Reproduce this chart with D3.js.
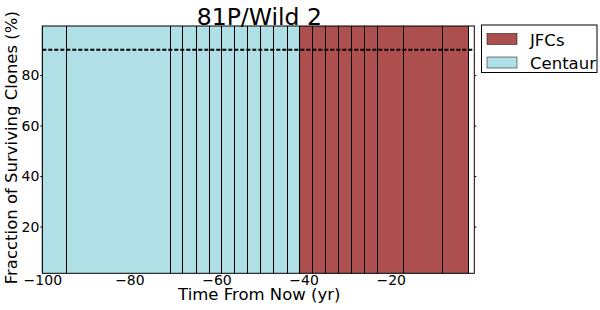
<!DOCTYPE html>
<html>
<head>
<meta charset="utf-8">
<script src="https://cdn.jsdelivr.net/npm/d3@7"></script>
<style>
  body { margin: 0; background: white; }
  text { font-family: "DejaVu Sans", sans-serif; fill: black; }
</style>
</head>
<body>
<div id="chart"></div>
<script>
// Datos (bordes de cada franja, en años)
var centaurEdges = [-100, -94.4, -70.6, -67.7, -64.7, -61.7, -58.8, -55.8, -52.8, -49.8, -46.8, -43.8, -40.9];
var jfcEdges = [-40.9, -37.9, -34.9, -32.0, -29.0, -26.0, -23.0, -17.0, -8.0, -2.1];
var xTicks = [-100, -80, -60, -40, -20];
var yTicks = [20, 40, 60, 80];
var thresholdLine = 90;
var barValue = 100;
var titleText = "81P/Wild 2";
var legendNames = ["JFCs", "Centaur"];

var chart_width = 600;
var chart_height = 310;
var plot = { left: 42.3, right: 474.3, top: 26, bottom: 273.3 };

var colorJfc = "#ad4f4f";
var colorCentaur = "#b0dfe5";

var svg = d3.select("#chart")
  .append("svg")
  .attr("width", chart_width)
  .attr("height", chart_height);

svg.append("rect")
  .attr("width", chart_width)
  .attr("height", chart_height)
  .style("fill", "white");

// Escalas
var escalaX = d3.scaleLinear()
  .domain([-100, -0.8])
  .range([plot.left, plot.right]);

var escalaY = d3.scaleLinear()
  .domain([1.5, 99.4])
  .range([plot.bottom, plot.top]);

svg.append("clipPath")
  .attr("id", "clip")
  .append("rect")
  .attr("x", plot.left)
  .attr("y", plot.top)
  .attr("width", plot.right - plot.left)
  .attr("height", plot.bottom - plot.top);

var g = svg.append("g").attr("clip-path", "url(#clip)");

// convierte los bordes en franjas
function franjas(edges, name) {
  var out = [];
  for (var i = 0; i < edges.length - 1; i++) {
    out.push({ x0: edges[i], x1: edges[i + 1], value: barValue, name: name });
  }
  return out;
}

var bars = franjas(centaurEdges, "Centaur").concat(franjas(jfcEdges, "JFCs"));

g.selectAll("rect.bar")
  .data(bars)
  .enter()
  .append("rect")
  .attr("class", "bar")
  .attr("x", function (d) { return escalaX(d.x0); })
  .attr("width", function (d) { return escalaX(d.x1) - escalaX(d.x0); })
  .attr("y", function (d) { return escalaY(d.value); })
  .attr("height", function (d) { return escalaY(0) - escalaY(d.value); })
  .style("fill", function (d) { return d.name === "JFCs" ? colorJfc : colorCentaur; })
  .style("stroke", "black")
  .style("stroke-width", 1)
  .attr("shape-rendering", "crispEdges");

// linea horizontal punteada
g.append("line")
  .attr("x1", plot.left)
  .attr("x2", plot.right)
  .attr("y1", escalaY(thresholdLine))
  .attr("y2", escalaY(thresholdLine))
  .style("stroke", "black")
  .style("stroke-width", 2)
  .style("stroke-dasharray", "4,2");

// Ejes
var ejeX = d3.axisBottom(escalaX)
  .tickValues(xTicks)
  .tickSize(0)
  .tickPadding(1.5);

var gx = svg.append("g")
  .attr("transform", "translate(0," + plot.bottom + ")")
  .call(ejeX);
gx.select(".domain").remove();
gx.selectAll("text").style("font-size", "14px").attr("dy", "0.72em");

var ejeY = d3.axisLeft(escalaY)
  .tickValues(yTicks)
  .tickSize(2)
  .tickPadding(1);

var gy = svg.append("g")
  .attr("transform", "translate(" + plot.left + ",0)")
  .call(ejeY);
gy.select(".domain").remove();
gy.selectAll("text").style("font-size", "14px");

var ejeY2 = d3.axisRight(escalaY)
  .tickValues(yTicks)
  .tickSize(2)
  .tickFormat("");

var gy2 = svg.append("g")
  .attr("transform", "translate(" + plot.right + ",0)")
  .call(ejeY2);
gy2.select(".domain").remove();

// marco
svg.append("rect")
  .attr("x", plot.left)
  .attr("y", plot.top)
  .attr("width", plot.right - plot.left)
  .attr("height", plot.bottom - plot.top)
  .style("fill", "none")
  .style("stroke", "black")
  .style("stroke-width", 1);

// Titulo y etiquetas
svg.append("text")
  .text(titleText)
  .attr("x", (plot.left + plot.right) / 2 + 1)
  .attr("y", 25)
  .style("text-anchor", "middle")
  .style("font-size", "23.5px");

svg.append("text")
  .text("Time From Now (yr)")
  .attr("x", (plot.left + plot.right) / 2 + 1)
  .attr("y", 300)
  .style("text-anchor", "middle")
  .style("font-size", "16.5px");

svg.append("text")
  .text("Fracction of Surviving Clones (%)")
  .attr("transform", "translate(16.5," + ((plot.top + plot.bottom) / 2 - 2) + ") rotate(-90)")
  .style("text-anchor", "middle")
  .style("font-size", "16.5px");

// Leyenda
var legend = svg.append("g");

legend.append("rect")
  .attr("x", 481.5)
  .attr("y", 25)
  .attr("width", 115.5)
  .attr("height", 47.5)
  .style("fill", "white")
  .style("stroke", "black")
  .style("stroke-width", 1);

var items = legend.selectAll("g.item")
  .data(legendNames)
  .enter()
  .append("g")
  .attr("class", "item")
  .attr("transform", function (d, i) { return "translate(0," + (i * 23.5) + ")"; });

items.append("rect")
  .attr("x", 487)
  .attr("y", 33.5)
  .attr("width", 30)
  .attr("height", 11)
  .style("fill", function (d) { return d === "JFCs" ? colorJfc : colorCentaur; })
  .style("stroke", "black")
  .style("stroke-width", 0.5);

items.append("text")
  .text(function (d) { return d; })
  .attr("x", 530)
  .attr("y", 45.5)
  .style("font-size", "16.5px");
</script>
</body>
</html>
